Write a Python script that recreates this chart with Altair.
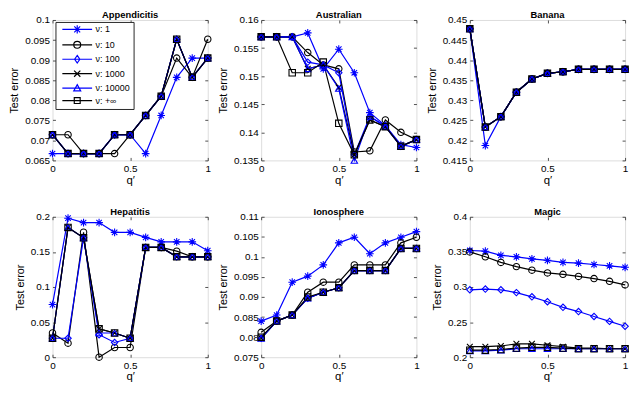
import altair as alt
import pandas as pd

q = [0, 0.1, 0.2, 0.3, 0.4, 0.5, 0.6, 0.7, 0.8, 0.9, 1.0]
series = ["ν: 1", "ν: 10", "ν: 100", "ν: 1000", "ν: 10000", "ν: +∞"]
colors = ["#0000ff", "#000000", "#0000ff", "#000000", "#0000ff", "#000000"]

ASTER = "M-1.2,0L1.2,0M0,-1.2L0,1.2M-0.85,-0.85L0.85,0.85M-0.85,0.85L0.85,-0.85"
XMARK = "M-0.9,-0.9L0.9,0.9M-0.9,0.9L0.9,-0.9"
shapes = [ASTER, "circle", "diamond", XMARK, "triangle-up", "square"]

LINE = "M-4.3,0L4.3,0"
legend_shapes = [
    LINE + ASTER,
    LINE + "M1,0A1,1,0,1,1,-1,0A1,1,0,1,1,1,0Z",
    LINE + "M0,-1.1L0.75,0L0,1.1L-0.75,0Z",
    LINE + XMARK,
    LINE + "M0,-1L1,0.8L-1,0.8Z",
    LINE + "M-0.85,-0.85L0.85,-0.85L0.85,0.85L-0.85,0.85Z",
]

x_ticks = [0, 0.5, 1]

# ---- Appendicitis ----
app_nu1 = [0.0667, 0.0667, 0.0667, 0.0667, 0.0714, 0.0714, 0.0667, 0.0762, 0.0857, 0.0905, 0.0905]
app_nu10 = [0.0714, 0.0714, 0.0667, 0.0667, 0.0667, 0.0714, 0.0762, 0.0810, 0.0905, 0.0857, 0.0952]
app_nu100 = [0.0714, 0.0667, 0.0667, 0.0667, 0.0714, 0.0714, 0.0762, 0.0810, 0.0952, 0.0857, 0.0905]
app_nu1000 = [0.0714, 0.0667, 0.0667, 0.0667, 0.0714, 0.0714, 0.0762, 0.0810, 0.0952, 0.0857, 0.0905]
app_nu10000 = [0.0714, 0.0667, 0.0667, 0.0667, 0.0714, 0.0714, 0.0762, 0.0810, 0.0952, 0.0857, 0.0905]
app_nuinf = [0.0714, 0.0667, 0.0667, 0.0667, 0.0714, 0.0714, 0.0762, 0.0810, 0.0952, 0.0857, 0.0905]
app_ticks = [0.065, 0.07, 0.075, 0.08, 0.085, 0.09, 0.095, 0.1]

# ---- Australian ----
aus_nu1 = [0.1570, 0.1570, 0.1570, 0.1577, 0.1513, 0.1548, 0.1506, 0.1435, 0.1412, 0.1378, 0.1373]
aus_nu10 = [0.1570, 0.1570, 0.1570, 0.1542, 0.1520, 0.1513, 0.1365, 0.1367, 0.1422, 0.1400, 0.1387]
aus_nu100 = [0.1570, 0.1570, 0.1570, 0.1525, 0.1520, 0.1506, 0.1360, 0.1428, 0.1412, 0.1375, 0.1387]
aus_nu1000 = [0.1570, 0.1570, 0.1570, 0.1513, 0.1520, 0.1480, 0.1360, 0.1422, 0.1410, 0.1375, 0.1387]
aus_nu10000 = [0.1570, 0.1570, 0.1570, 0.1513, 0.1520, 0.1478, 0.1350, 0.1428, 0.1410, 0.1375, 0.1387]
aus_nuinf = [0.1570, 0.1570, 0.1506, 0.1506, 0.1525, 0.1416, 0.1360, 0.1422, 0.1410, 0.1375, 0.1387]
aus_ticks = [0.135, 0.14, 0.145, 0.15, 0.155, 0.16]

# ---- Banana ----
ban_nu1 = [0.4478, 0.4187, 0.4259, 0.4320, 0.4353, 0.4367, 0.4371, 0.4377, 0.4377, 0.4377, 0.4377]
ban_nu10 = [0.4478, 0.4233, 0.4259, 0.4320, 0.4353, 0.4367, 0.4371, 0.4377, 0.4377, 0.4377, 0.4377]
ban_nu100 = [0.4478, 0.4233, 0.4259, 0.4320, 0.4353, 0.4367, 0.4371, 0.4377, 0.4377, 0.4377, 0.4377]
ban_nu1000 = [0.4478, 0.4233, 0.4259, 0.4320, 0.4353, 0.4367, 0.4371, 0.4377, 0.4377, 0.4377, 0.4377]
ban_nu10000 = [0.4478, 0.4233, 0.4259, 0.4320, 0.4353, 0.4367, 0.4371, 0.4377, 0.4377, 0.4377, 0.4377]
ban_nuinf = [0.4478, 0.4233, 0.4259, 0.4320, 0.4353, 0.4367, 0.4371, 0.4377, 0.4377, 0.4377, 0.4377]
ban_ticks = [0.415, 0.42, 0.425, 0.43, 0.435, 0.44, 0.445, 0.45]

# ---- Hepatitis ----
hep_nu1 = [0.0750, 0.1980, 0.1917, 0.1917, 0.1778, 0.1778, 0.1706, 0.1643, 0.1643, 0.1643, 0.1517]
hep_nu10 = [0.0345, 0.0200, 0.1780, 0.0000, 0.0138, 0.0138, 0.1563, 0.1563, 0.1510, 0.1430, 0.1430]
hep_nu100 = [0.0270, 0.0270, 0.1700, 0.0320, 0.0210, 0.0270, 0.1563, 0.1563, 0.1430, 0.1430, 0.1430]
hep_nu1000 = [0.0270, 0.1848, 0.1700, 0.0405, 0.0345, 0.0270, 0.1563, 0.1563, 0.1430, 0.1430, 0.1430]
hep_nu10000 = [0.0270, 0.1848, 0.1700, 0.0345, 0.0345, 0.0270, 0.1563, 0.1563, 0.1430, 0.1430, 0.1430]
hep_nuinf = [0.0270, 0.1848, 0.1700, 0.0405, 0.0345, 0.0270, 0.1563, 0.1563, 0.1430, 0.1430, 0.1430]
hep_ticks = [0, 0.05, 0.1, 0.15, 0.2]

# ---- Ionosphere ----
ion_nu1 = [0.0840, 0.0855, 0.0937, 0.0952, 0.0980, 0.1035, 0.1049, 0.1008, 0.1035, 0.1049, 0.1063]
ion_nu10 = [0.0812, 0.0840, 0.0855, 0.0912, 0.0937, 0.0937, 0.0980, 0.0980, 0.0980, 0.1035, 0.1049]
ion_nu100 = [0.0797, 0.0840, 0.0855, 0.0897, 0.0912, 0.0923, 0.0966, 0.0966, 0.0966, 0.1021, 0.1021]
ion_nu1000 = [0.0797, 0.0840, 0.0855, 0.0897, 0.0912, 0.0923, 0.0966, 0.0966, 0.0966, 0.1021, 0.1021]
ion_nu10000 = [0.0797, 0.0840, 0.0855, 0.0897, 0.0912, 0.0923, 0.0966, 0.0966, 0.0966, 0.1021, 0.1021]
ion_nuinf = [0.0800, 0.0840, 0.0855, 0.0900, 0.0912, 0.0923, 0.0966, 0.0966, 0.0966, 0.1021, 0.1021]
ion_ticks = [0.075, 0.08, 0.085, 0.09, 0.095, 0.1, 0.105, 0.11]

# ---- Magic ----
mag_nu1 = [0.352, 0.351, 0.345, 0.343, 0.340, 0.338, 0.335, 0.334, 0.332, 0.330, 0.328]
mag_nu10 = [0.350, 0.343, 0.335, 0.329, 0.324, 0.320, 0.318, 0.315, 0.312, 0.308, 0.303]
mag_nu100 = [0.296, 0.297, 0.296, 0.292, 0.286, 0.279, 0.271, 0.265, 0.258, 0.251, 0.244]
mag_nu1000 = [0.215, 0.215, 0.216, 0.219, 0.219, 0.217, 0.215, 0.213, 0.213, 0.212, 0.212]
mag_nu10000 = [0.209, 0.209, 0.210, 0.212, 0.212, 0.212, 0.212, 0.212, 0.212, 0.212, 0.212]
mag_nuinf = [0.210, 0.210, 0.211, 0.213, 0.214, 0.214, 0.213, 0.212, 0.212, 0.212, 0.212]
mag_ticks = [0.2, 0.25, 0.3, 0.35, 0.4]

W = 157
H = 142
FONT = "Liberation Sans"
TXT = "#262626"


def make_df(cols):
    rows = []
    for name, vals in zip(series, cols):
        for xv, yv in zip(q, vals):
            rows.append({"q": xv, "err": yv, "series": name})
    return pd.DataFrame(rows)


def tick_axis(orient, offset, values):
    return alt.Axis(orient=orient, offset=offset, values=values, labels=False,
                    ticks=True, tickSize=3, tickWidth=0.8, tickColor=TXT,
                    domain=False, grid=False, title=None)


def legend_params():
    return alt.Legend(
        orient="none", legendX=3, legendY=2, title=None,
        strokeColor="#262626", fillColor="white", padding=3,
        symbolSize=49, symbolStrokeWidth=1.2, labelFontSize=9,
        labelFont=FONT, labelColor="black", rowPadding=1.6,
        symbolOffset=14.5, labelOffset=14)


def panel(title, cols, yticks, with_legend=False):
    df = make_df(cols)
    xs = alt.Scale(domain=[0, 1], nice=False, zero=False)
    ys = alt.Scale(domain=[yticks[0], yticks[-1]], nice=False, zero=False)
    cscale = alt.Scale(domain=series, range=colors)
    base = alt.Chart(df)

    lines = base.mark_line(strokeWidth=1.2).encode(
        x=alt.X("q:Q", scale=xs, axis=alt.Axis(values=x_ticks, format="~g", title="q′",
                                               ticks=False, domain=False, grid=False,
                                               labelFlush=False, labelPadding=3,
                                               titlePadding=1, titleFontWeight="normal",
                                               titleFontSize=11.5, titleFont=FONT)),
        y=alt.Y("err:Q", scale=ys, axis=alt.Axis(values=yticks, format="~g", title="Test error",
                                                 ticks=False, domain=False, grid=False,
                                                 labelFlush=False, labelPadding=3,
                                                 titlePadding=5, titleFontWeight="normal",
                                                 titleFontSize=11, titleFont=FONT)),
        color=alt.Color("series:N", scale=cscale, legend=None),
    )
    points = base.mark_point(filled=False, size=42, strokeWidth=1.1, opacity=1).encode(
        x=alt.X("q:Q", scale=xs, axis=tick_axis("top", -H, x_ticks)),
        y=alt.Y("err:Q", scale=ys, axis=tick_axis("right", -W, yticks)),
        color=alt.Color("series:N", scale=cscale, legend=None),
        shape=alt.Shape("series:N", scale=alt.Scale(domain=series, range=shapes), legend=None),
    )
    ticks2 = base.transform_filter("false").mark_point().encode(
        x=alt.X("q:Q", scale=xs, axis=tick_axis("bottom", -H, x_ticks)),
        y=alt.Y("err:Q", scale=ys, axis=tick_axis("left", -W, yticks)),
    )
    layers = [lines, points, ticks2]
    if with_legend:
        leg = base.transform_filter("false").mark_point(filled=False, strokeWidth=1.2, opacity=1).encode(
            x=alt.X("q:Q", scale=xs, axis=None),
            y=alt.Y("err:Q", scale=ys, axis=None),
            color=alt.Color("series:N", scale=alt.Scale(domain=series, range=colors),
                            legend=legend_params()),
            shape=alt.Shape("series:N", scale=alt.Scale(domain=series, range=legend_shapes),
                            legend=legend_params()),
        )
        layers.append(leg)
    ch = alt.layer(*layers).resolve_axis(x="independent", y="independent")
    if with_legend:
        ch = ch.resolve_scale(color="independent", shape="independent")
    return ch.properties(
        width=W, height=H,
        title=alt.TitleParams(title, fontSize=9.5, fontWeight="bold", font=FONT,
                              color="black", offset=-5, frame="group"),
    )


p1 = panel("Appendicitis", [app_nu1, app_nu10, app_nu100, app_nu1000, app_nu10000, app_nuinf], app_ticks, True)
p2 = panel("Australian", [aus_nu1, aus_nu10, aus_nu100, aus_nu1000, aus_nu10000, aus_nuinf], aus_ticks)
p3 = panel("Banana", [ban_nu1, ban_nu10, ban_nu100, ban_nu1000, ban_nu10000, ban_nuinf], ban_ticks)
p4 = panel("Hepatitis", [hep_nu1, hep_nu10, hep_nu100, hep_nu1000, hep_nu10000, hep_nuinf], hep_ticks)
p5 = panel("Ionosphere", [ion_nu1, ion_nu10, ion_nu100, ion_nu1000, ion_nu10000, ion_nuinf], ion_ticks)
p6 = panel("Magic", [mag_nu1, mag_nu10, mag_nu100, mag_nu1000, mag_nu10000, mag_nuinf], mag_ticks)

chart = alt.concat(
    p1, p2, p3, p4, p5, p6, columns=3, spacing={"row": 57, "column": 54}, bounds="flush"
).resolve_scale(
    x="independent", y="independent", color="independent", shape="independent"
).properties(padding=0).configure_view(
    stroke="#262626", strokeWidth=0.8
).configure_axis(
    labelFont=FONT, labelFontSize=9, labelColor=TXT,
    titleFont=FONT, titleFontSize=11.5, titleColor=TXT, titleFontWeight="normal",
).configure_title(fontWeight="bold").configure(background="white")

chart.save("out.html", embed_options={"renderer": "svg", "actions": False})
